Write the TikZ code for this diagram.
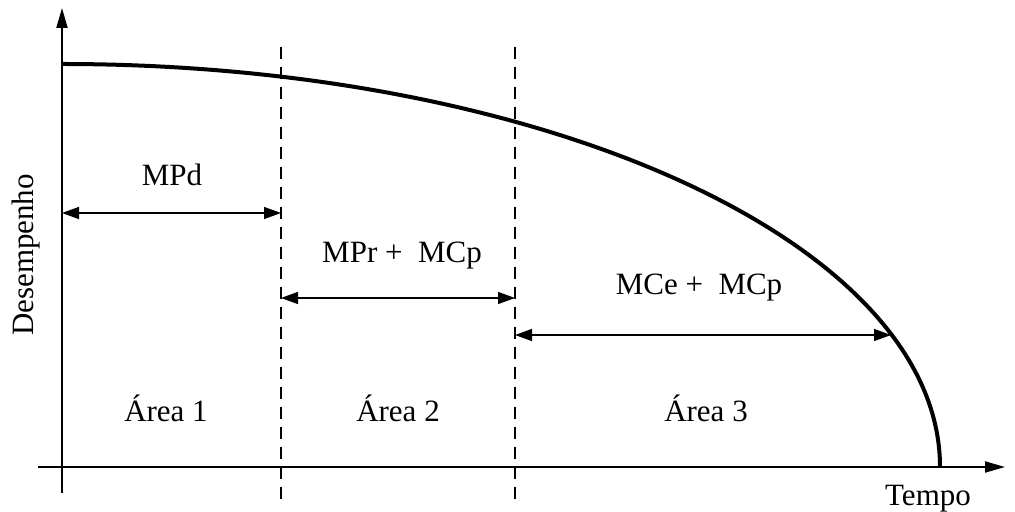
\documentclass[tikz,border=0pt]{standalone}
\usepackage{fontspec}
\setmainfont{Liberation Serif}
\usepackage{tikz}
\usetikzlibrary{positioning,arrows.meta,calc}

\begin{document}
\begin{tikzpicture}[
  x=0.5pt, y=-0.5pt,
  font=\fontsize{15.5}{18}\selectfont,
  axis/.style={line width=1pt, -{Triangle[length=10pt, width=5.5pt]}},
  span/.style={line width=0.7pt, {Triangle[length=8.5pt, width=6pt]}-{Triangle[length=8.5pt, width=6pt]}},
  limit/.style={line width=0.6pt, dash pattern=on 6pt off 4pt},
  perf/.style={line width=2pt},
  lbl/.style={anchor=base, inner sep=0pt}]
\useasboundingbox (0,0) rectangle (1015,512);

% Axes.
\coordinate (o) at (62,467);
\coordinate (ybot) at (62,493);
\coordinate (ytop) at (62,8);
\coordinate (xleft) at (38,467);
\coordinate (xright) at (1005,467);
\draw[axis] (ybot) -- (ytop);
\draw[axis] (xleft) -- (xright);
\node[lbl, rotate=90] (des) at (33,255) {Desempenho};
\node[lbl] (tempo) at (928,505) {Tempo};

% Area limits.
\coordinate (l1top) at (281,47);
\coordinate (l1bot) at (281,505);
\coordinate (l2top) at (515,47);
\coordinate (l2bot) at (515,505);
\draw[limit] (l1top) -- (l1bot);
\draw[limit] (l2top) -- (l2bot);

% Performance curve (quarter ellipse).
\coordinate (c0) at (62,64);
\draw[perf] (c0) arc[start angle=-90, end angle=0, x radius=878, y radius=403];

% Maintenance spans.
\coordinate (a1l) at (62,213);
\coordinate (a1r) at (281,213);
\coordinate (a2l) at (281,298);
\coordinate (a2r) at (515,298);
\coordinate (a3l) at (515,335);
\coordinate (a3r) at (891,335);
\draw[span] (a1l) -- (a1r);
\draw[span] (a2l) -- (a2r);
\draw[span] (a3l) -- (a3r);
\node[lbl] (mpd) at (172,186) {MPd};
\node[lbl] (mpr) at (402,263) {MPr +\ \ MCp};
\node[lbl] (mce) at (699,295) {MCe +\ \ MCp};

% Areas.
\node[lbl] (ar1) at (166,421) {Área 1};
\node[lbl] (ar2) at (398,421) {Área 2};
\node[lbl] (ar3) at (706,421) {Área 3};
\end{tikzpicture}
\end{document}
